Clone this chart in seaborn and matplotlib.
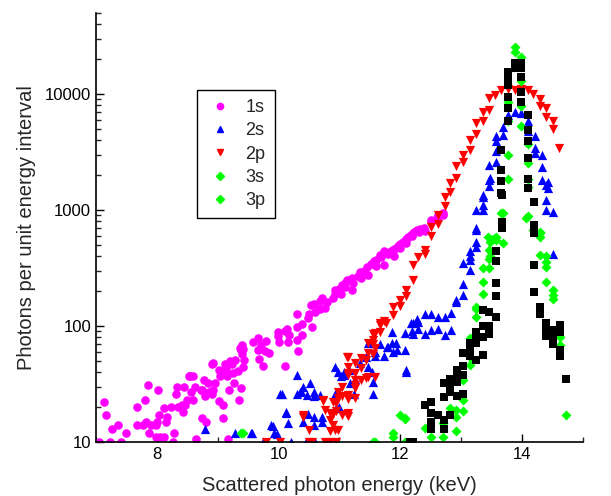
import matplotlib
matplotlib.use("Agg")
import matplotlib.pyplot as plt
import seaborn as sns
from matplotlib.lines import Line2D
from matplotlib.ticker import LogLocator, FixedLocator, NullFormatter

# ---- data (energy keV, photons per unit energy) ----
x_1s = [7.05, 7.14, 7.16, 7.23, 7.26, 7.36, 7.41, 7.49, 7.67, 7.68, 7.78, 7.80, 7.82, 7.86,
        7.87, 7.90, 7.98, 7.98, 8.02, 8.04, 8.00, 8.05, 8.12, 8.12, 8.15, 8.17, 8.23, 8.26,
        8.29, 8.31, 8.34, 8.35, 8.41, 8.43, 8.45, 8.47, 8.49, 8.53, 8.55, 8.57, 8.59, 8.60,
        8.62, 8.64, 8.72, 8.74, 8.75, 8.78, 8.80, 8.81, 8.84, 8.85, 8.90, 8.91, 8.92, 8.93,
        8.95, 9.02, 9.03, 9.04, 9.08, 9.09, 9.12, 9.13, 9.14, 9.15, 9.17, 9.19, 9.20, 9.23,
        9.25, 9.27, 9.28, 9.33, 9.35, 9.37, 9.38, 9.39, 9.40, 9.40, 9.41, 9.42, 9.44, 9.58,
        9.66, 9.67, 9.68, 9.72, 9.75, 9.78, 9.80, 9.84, 9.99, 9.99, 10.0, 10.10, 10.11, 10.14,
        10.15, 10.17, 10.30, 10.30, 10.30, 10.32, 10.38, 10.38, 10.49, 10.50, 10.54, 10.55,
        10.59, 10.60, 10.68, 10.68, 10.71, 10.76, 10.80, 10.90, 10.92, 10.92, 11.0, 11.02,
        11.05, 11.10, 11.10, 11.13, 11.20, 11.20, 11.22, 11.30, 11.34, 11.35, 11.40, 11.45,
        11.47, 11.52, 11.57, 11.60, 11.60, 11.66, 11.68, 11.74, 11.74, 11.77, 11.80, 11.85,
        11.88, 11.90, 11.90, 11.96, 11.99, 12.0, 12.0, 12.05, 12.10, 12.10, 12.10, 12.13,
        12.18, 12.20, 12.21, 12.22, 12.27, 12.30, 12.32, 12.39, 12.40, 12.50, 12.51, 12.60,
        12.62, 12.70, 12.70]
y_1s = [10, 22, 17, 10, 13, 14, 10, 12, 20, 14, 14, 23, 15, 31,
        12, 14, 14, 11, 28, 17, 15, 11, 19.5, 11, 15, 16.5, 20, 10,
        12, 26, 30, 20, 21, 18, 30, 21, 23, 37, 37, 27, 37, 23,
        30, 10.7, 28, 16, 28, 34, 25, 15, 32, 27, 26, 47, 48, 28,
        32, 42, 22.5, 37, 16, 21, 47, 43, 40, 37, 10.7, 28, 50, 47,
        39, 32, 51, 41, 23, 64, 29, 62, 69, 57, 63, 44, 51, 73,
        78, 62, 52, 69, 45, 61, 74, 58, 89, 82, 72, 45, 91, 94,
        72, 84, 128, 97, 76, 61, 84, 104, 117, 128, 152, 98,
        155, 132, 165, 140, 173, 143, 160, 175, 190, 205, 210, 190,
        225, 235, 215, 250, 260, 205, 235, 270, 292, 260, 300, 320,
        275, 345, 360, 330, 370, 410, 390, 440, 335, 424, 420, 440,
        450, 460, 400, 485, 497, 505, 470, 530, 550, 560, 520, 580,
        610, 600, 630, 640, 675, 650, 690, 700, 660, 780, 820, 860,
        905, 940, 900]

x_2s = [8.80, 9.28, 9.54, 9.56, 9.75, 9.88, 9.91, 9.92, 9.97, 10.02, 10.05, 10.12, 10.13,
        10.15, 10.20, 10.30, 10.30, 10.35, 10.37, 10.40, 10.41, 10.45, 10.46, 10.49, 10.51,
        10.58, 10.58, 10.58, 10.58, 10.60, 10.68, 10.71, 10.72, 10.92, 10.92, 10.95, 10.97,
        11.0, 11.03, 11.07, 11.08, 11.15, 11.17, 11.24, 11.26, 11.34, 11.44, 11.47, 11.47,
        11.53, 11.55, 11.55, 11.55, 11.58, 11.58, 11.66, 11.73, 11.78, 11.80, 11.86, 11.86,
        11.88, 11.93, 11.95, 12.07, 12.07, 12.10, 12.10, 12.18, 12.20, 12.21, 12.21, 12.27,
        12.29, 12.29, 12.40, 12.40, 12.51, 12.51, 12.62, 12.62, 12.73, 12.73, 12.84, 12.84,
        12.92, 12.92, 13.03, 13.03, 13.03, 13.14, 13.14, 13.14, 13.14, 13.25, 13.25, 13.25,
        13.25, 13.25, 13.36, 13.36, 13.36, 13.36, 13.46, 13.46, 13.46, 13.47, 13.57, 13.57,
        13.57, 13.58, 13.68, 13.68, 13.77, 13.88, 13.99, 14.10, 14.10, 14.21, 14.21, 14.21,
        14.32, 14.32, 14.32, 14.40, 14.43, 14.43, 14.40, 14.40, 14.51, 14.51]
y_2s = [13, 12, 12, 12, 10, 14, 13.6, 12, 11.7, 26, 26, 18, 17.7,
        14.5, 10, 38, 26, 27, 27.5, 15, 30, 10, 25.5, 17.5, 32,
        25, 16.5, 14, 27, 10, 25.5, 16.5, 14.8, 44.6, 26, 19.8, 40,
        20, 37, 38, 40, 42, 32, 26, 35, 47.5, 54.5, 44.6, 71,
        40, 33, 71, 26, 60, 55, 70, 55, 66, 66, 89, 71,
        60, 71, 62, 87, 62, 42, 40, 107, 90, 106, 86, 115,
        109, 95, 128, 85, 128, 92, 120, 95, 120, 84, 130, 92,
        168, 160, 232, 185, 350, 400, 305, 440, 370, 530, 480, 700,
        1000, 670, 1290, 1000, 1350, 1100, 2430, 1830, 1600, 1900, 3900, 3200,
        2600, 4300, 5200, 4400, 6600, 6950, 6800, 5800, 4800, 4300, 3400, 3100,
        3000, 2350, 1800, 1640, 1750, 1550, 1220, 1000, 960, 420]

x_2p = [9.80, 10.02, 10.40, 10.40, 10.50, 10.50, 10.55, 10.73, 10.73, 10.77, 10.77, 10.84,
        10.84, 10.84, 10.84, 10.90, 10.90, 10.90, 10.92, 10.95, 10.95, 10.95, 10.97, 10.97,
        10.97, 11.04, 11.04, 11.04, 11.12, 11.12, 11.14, 11.14, 11.14, 11.14, 11.14, 11.14,
        11.14, 11.14, 11.25, 11.25, 11.25, 11.25, 11.26, 11.26, 11.36, 11.36, 11.36, 11.44,
        11.44, 11.47, 11.47, 11.47, 11.55, 11.55, 11.55, 11.55, 11.58, 11.58, 11.58, 11.66,
        11.66, 11.66, 11.74, 11.77, 11.88, 11.88, 11.99, 11.99, 12.10, 12.10, 12.21, 12.21,
        12.29, 12.40, 12.40, 12.51, 12.51, 12.62, 12.62, 12.73, 12.73, 12.81, 12.81, 12.92,
        12.92, 13.03, 13.03, 13.14, 13.14, 13.25, 13.25, 13.36, 13.36, 13.46, 13.46, 13.55,
        13.66, 13.77, 13.88, 13.99, 14.10, 14.18, 14.29, 14.29, 14.40, 14.40, 14.51, 14.51,
        14.61]
y_2p = [10, 10, 17, 16.5, 12.7, 10, 10, 23, 22.7, 18.8, 10, 17.7,
        15.4, 12.5, 10, 22, 17.5, 14, 12.7, 21.5, 18.5, 10, 12.8, 27,
        24, 30, 25, 17, 54.5, 17.5, 54, 44, 38, 39, 25.5, 23.5,
        17.7, 16.8, 47.5, 39, 31, 24, 34, 29, 53, 43, 34, 51,
        35.6, 71, 59, 36, 86, 75, 70, 57, 87, 64, 36, 106,
        102, 88, 110, 106, 146, 125, 167, 150, 205, 180, 335, 250,
        395, 450, 420, 720, 600, 900, 760, 1300, 1090, 1700, 1430, 2380,
        1900, 3000, 2600, 4000, 3300, 5600, 4500, 7000, 5800, 9200, 7300, 9800,
        10800, 11100, 10800, 11000, 10800, 10000, 9000, 7900, 7500, 6300, 5800, 5000,
        3400]

x_3s = [9.39, 9.42, 11.55, 11.58, 11.88, 11.88, 11.99, 12.07, 12.07, 12.07, 12.40, 12.51,
        12.70, 12.70, 12.81, 12.92, 12.92, 12.92, 13.03, 13.03, 13.03, 13.14, 13.14, 13.14,
        13.25, 13.25, 13.25, 13.36, 13.36, 13.36, 13.44, 13.46, 13.46, 13.46, 13.47, 13.47,
        13.53, 13.57, 13.57, 13.66, 13.68, 13.68, 13.77, 13.77, 13.77, 13.77, 13.88, 13.88,
        13.99, 13.99, 13.99, 13.99, 14.07, 14.10, 14.10, 14.10, 14.10, 14.10, 14.18, 14.29,
        14.29, 14.29, 14.29, 14.40, 14.40, 14.40, 14.40, 14.51, 14.51, 14.51, 14.62, 14.62,
        14.73]
y_3s = [12, 11.9, 10, 10, 11.9, 11, 17, 16, 15.8, 10, 13.1, 11.1,
        14.5, 11.1, 19.5, 18.9, 16.4, 12.5, 34, 23, 18.4, 78, 54.5, 46,
        120, 146, 140, 315, 240, 190, 590, 450, 380, 315, 530, 400,
        560, 550, 580, 935, 940, 520, 8600, 5800, 3000, 1860, 25600, 22800,
        21000, 13000, 7800, 5300, 850, 3700, 2540, 1860, 1580, 880, 670, 650,
        630, 580, 410, 400, 355, 325, 240, 205, 185, 170, 81, 68,
        17]

x_3p = [12.16, 12.21, 12.40, 12.51, 12.51, 12.51, 12.51, 12.62, 12.72, 12.72, 12.72, 12.72,
        12.82, 12.82, 12.82, 12.82, 12.93, 12.93, 12.93, 12.93, 13.03, 13.03, 13.03, 13.03,
        13.14, 13.14, 13.14, 13.25, 13.25, 13.25, 13.25, 13.36, 13.36, 13.36, 13.36, 13.46,
        13.46, 13.46, 13.57, 13.57, 13.57, 13.57, 13.57, 13.66, 13.66, 13.66, 13.66, 13.67,
        13.67, 13.67, 13.77, 13.77, 13.77, 13.77, 13.77, 13.77, 13.88, 13.88, 13.99, 13.99,
        13.99, 13.99, 13.99, 14.09, 14.09, 14.09, 14.09, 14.09, 14.09, 14.20, 14.20, 14.20,
        14.20, 14.20, 14.29, 14.29, 14.40, 14.40, 14.40, 14.51, 14.51, 14.51, 14.62, 14.62,
        14.62, 14.62, 14.73]
y_3p = [10, 10, 20.8, 22.2, 17.7, 14.9, 13, 17, 32, 24.6, 15.5, 13,
        35, 31, 27, 17, 41.8, 38, 33, 25, 58, 45, 38, 26,
        71, 63, 55, 89, 78, 71, 51, 137, 99, 80, 56, 133,
        100, 86, 440, 365, 233, 180, 120, 3300, 2200, 1760, 1400, 1340,
        795, 700, 15600, 14000, 12000, 9400, 7500, 5800, 18400, 16800, 18400, 16800,
        14000, 10400, 8600, 6600, 4900, 3900, 2800, 1860, 1560, 1180, 740, 630,
        335, 196, 146, 127, 106, 94, 82, 92, 78, 70, 102, 88,
        62, 55, 34.6]

labels = ["1s", "2s", "2p", "3s", "3p"]
legend_colors = ["#ff00ff", "#0000ff", "#ff0000", "#00ff00", "#00ff00"]
legend_markers = ["o", "^", "v", "D", "D"]

sns.set_style("ticks")
plt.rcParams["font.family"] = ["Liberation Sans", "DejaVu Sans"]

fig = plt.figure(figsize=(6.11, 4.96), dpi=100)
ax = fig.add_axes([0.157, 0.109, 0.797, 0.865])

sns.scatterplot(x=x_1s, y=y_1s, marker="o", color="#ff00ff", s=38, linewidth=0, ax=ax)
sns.scatterplot(x=x_2s, y=y_2s, marker="^", color="#0000ff", s=44, linewidth=0, ax=ax)
sns.scatterplot(x=x_2p, y=y_2p, marker="v", color="#ff0000", s=44, linewidth=0, ax=ax)
sns.scatterplot(x=x_3s, y=y_3s, marker="D", color="#00ff00", s=26, linewidth=0, ax=ax)
sns.scatterplot(x=x_3p, y=y_3p, marker="s", color="black", s=30, linewidth=0, ax=ax)

ax.set_yscale("log")
ax.set_xlim(7, 15)
ax.set_ylim(10, 50000)

ax.xaxis.set_major_locator(FixedLocator([8, 10, 12, 14]))
ax.xaxis.set_minor_locator(FixedLocator([7, 9, 11, 13, 15]))
ax.yaxis.set_major_locator(FixedLocator([10, 100, 1000, 10000]))
ax.yaxis.set_minor_locator(LogLocator(base=10, subs=range(2, 10)))
ax.yaxis.set_minor_formatter(NullFormatter())
ax.set_yticklabels(["10", "100", "1000", "10000"])

ax.tick_params(axis="both", which="major", direction="in", length=6, width=1,
               labelsize=12, colors="black")
ax.tick_params(axis="both", which="minor", direction="in", length=3.5, width=1)
for side in ["left", "bottom"]:
    ax.spines[side].set_linewidth(1.2)
    ax.spines[side].set_color("black")
sns.despine(ax=ax)

ax.set_xlabel("Scattered photon energy (keV)", fontsize=14.5, labelpad=10)
ax.set_ylabel("Photons per unit energy interval", fontsize=14.5, labelpad=6)

handles = [Line2D([], [], linestyle="none", marker=m, color=c, markersize=4.5)
           for m, c in zip(legend_markers, legend_colors)]
leg = ax.legend(handles, labels, loc="upper left", bbox_to_anchor=(0.207, 0.82),
                borderaxespad=0, fontsize=13, frameon=True, fancybox=False,
                edgecolor="black", framealpha=1, labelspacing=0.35,
                handletextpad=0.6, borderpad=0.5, handlelength=1.6)
leg.get_frame().set_linewidth(1)

fig.savefig("out.png", dpi=100)
